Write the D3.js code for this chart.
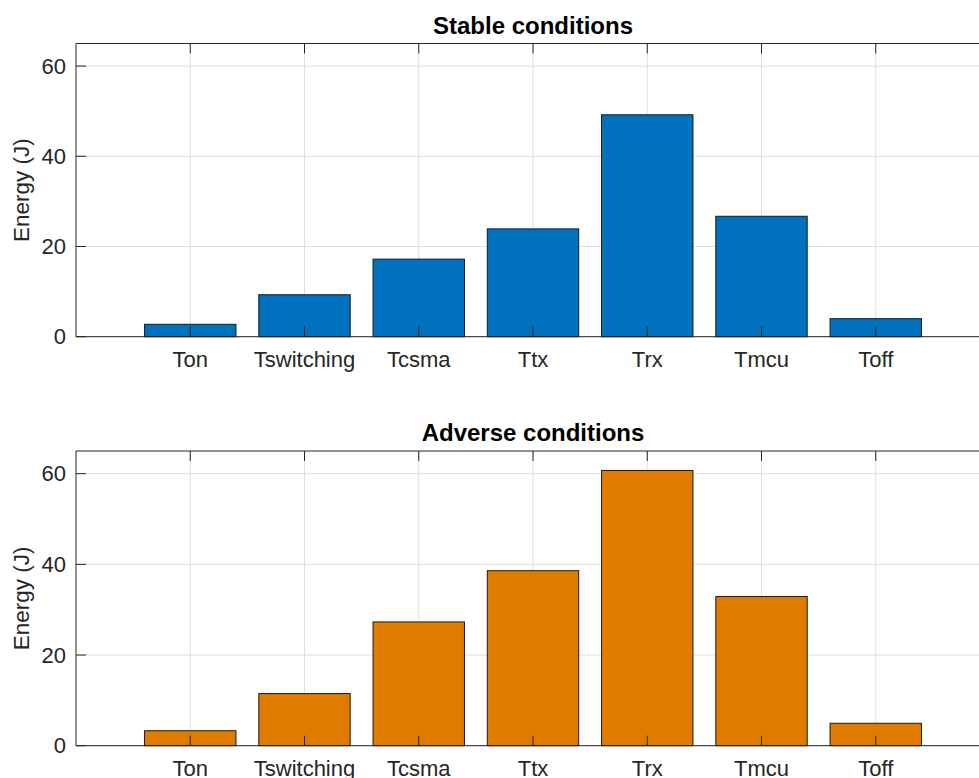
<!DOCTYPE html>
<html>
<head>
<meta charset="utf-8">
<script src="https://cdn.jsdelivr.net/npm/d3@7"></script>
<style>
    body { margin: 0; background: #fff; }
    svg { display: block; font-family: "Liberation Sans", Arial, sans-serif; }
    .grid line { stroke: #dfdfdf; stroke-width: 1; }
    .frame { stroke: #262626; stroke-width: 1; fill: none; }
    .tick-mark { stroke: #262626; stroke-width: 1; }
    .tick-label { fill: #262626; font-size: 22px; }
    .axis-label { fill: #262626; font-size: 22.5px; }
    .title { fill: #000; font-size: 24px; font-weight: bold; }
    .bar { stroke: #1a1a1a; stroke-width: 1; }
</style>
</head>
<body>
<svg width="979" height="778"></svg>
<script>
var categories = ["Ton", "Tswitching", "Tcsma", "Ttx", "Trx", "Tmcu", "Toff"];
var stableValues = [2.75, 9.3, 17.2, 23.9, 49.2, 26.7, 4.0];
var adverseValues = [3.3, 11.5, 27.3, 38.6, 60.7, 32.9, 4.95];
var yTicks = [0, 20, 40, 60];

function barPanel(options) {
    var self = {};
    self.svg = d3.select("svg");
    self.top = options.top;
    self.bottom = options.bottom;
    self.left = 76;
    self.right = 990;   // axes run past the window edge, as in the reference
    self.tickLength = 10;

    self.x = d3.scaleLinear().domain([0, categories.length + 1]).range([self.left, self.right]);
    self.y = d3.scaleLinear().domain([0, 65]).range([self.bottom, self.top]);
    self.barWidth = (self.x(1) - self.x(0)) * 0.8;

    self.g = self.svg.append("g");

    self.drawGrid = function () {
        var grid = self.g.append("g").attr("class", "grid");
        grid.selectAll("line.v")
            .data(categories)
            .enter().append("line")
            .attr("class", "v")
            .attr("x1", function (d, i) { return self.x(i + 1); })
            .attr("x2", function (d, i) { return self.x(i + 1); })
            .attr("y1", self.top)
            .attr("y2", self.bottom);
        grid.selectAll("line.h")
            .data(yTicks)
            .enter().append("line")
            .attr("class", "h")
            .attr("x1", self.left)
            .attr("x2", self.right)
            .attr("y1", function (d) { return self.y(d); })
            .attr("y2", function (d) { return self.y(d); });
    };

    self.drawBars = function (values) {
        self.g.selectAll("rect.bar")
            .data(values)
            .enter().append("rect")
            .attr("class", "bar")
            .attr("fill", options.color)
            .attr("x", function (d, i) { return self.x(i + 1) - self.barWidth / 2; })
            .attr("width", self.barWidth)
            .attr("y", function (d) { return self.y(d); })
            .attr("height", function (d) { return self.y(0) - self.y(d); });
    };

    self.drawAxes = function () {
        self.g.append("path")
            .attr("class", "frame")
            .attr("d", "M" + self.right + "," + self.top + "H" + self.left + "V" + self.bottom + "H" + self.right);

        // x ticks, inward at bottom and top
        var xt = self.g.append("g");
        categories.forEach(function (c, i) {
            var px = self.x(i + 1);
            xt.append("line").attr("class", "tick-mark")
                .attr("x1", px).attr("x2", px)
                .attr("y1", self.bottom).attr("y2", self.bottom - self.tickLength);
            xt.append("line").attr("class", "tick-mark")
                .attr("x1", px).attr("x2", px)
                .attr("y1", self.top).attr("y2", self.top + self.tickLength);
            xt.append("text").attr("class", "tick-label")
                .attr("x", px)
                .attr("y", self.bottom + 30.5)
                .attr("text-anchor", "middle")
                .text(c);
        });

        var yt = self.g.append("g");
        yTicks.forEach(function (t) {
            yt.append("line").attr("class", "tick-mark")
                .attr("x1", self.left).attr("x2", self.left + self.tickLength)
                .attr("y1", self.y(t)).attr("y2", self.y(t));
            yt.append("text").attr("class", "tick-label")
                .attr("x", self.left - 10)
                .attr("y", self.y(t))
                .attr("dy", "0.35em")
                .attr("text-anchor", "end")
                .text(t);
        });
    };

    self.drawLabels = function () {
        var cy = (self.top + self.bottom) / 2;
        self.g.append("text")
            .attr("class", "axis-label")
            .attr("transform", "translate(29," + cy + ") rotate(-90)")
            .attr("text-anchor", "middle")
            .text("Energy (J)");
        self.g.append("text")
            .attr("class", "title")
            .attr("x", (self.left + self.right) / 2)
            .attr("y", self.top - 10)
            .attr("text-anchor", "middle")
            .text(options.title);
    };

    self.drawGrid();
    self.drawBars(options.values);
    self.drawAxes();
    self.drawLabels();
    return self;
}

barPanel({ top: 43.5, bottom: 336.7, values: stableValues, color: "#0072bd", title: "Stable conditions" });
barPanel({ top: 451, bottom: 745.7, values: adverseValues, color: "#df7c00", title: "Adverse conditions" });
</script>
</body>
</html>
